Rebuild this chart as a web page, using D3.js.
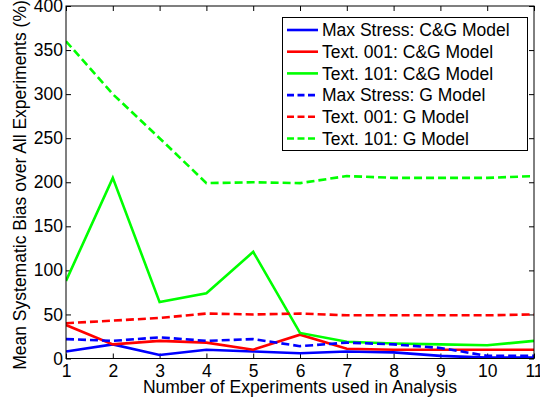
<!DOCTYPE html>
<html>
<head>
<meta charset="utf-8">
<script src="https://cdn.jsdelivr.net/npm/d3@7"></script>
<style>
  body { margin: 0; background: #fff; }
  text { font-family: Arial, "Liberation Sans", sans-serif; fill: #000; }
</style>
</head>
<body>
<div id="canvas"></div>
<script>
"use strict"

/* Data */
let experiments = [1, 2, 3, 4, 5, 6, 7, 8, 9, 10, 11];
let maxStressCG = [8, 16, 4, 10, 8, 6, 8, 7, 3, 1, 1];
let text001CG = [38, 16, 20, 18, 10, 27, 11, 10, 10, 10, 10];
let text101CG = [88, 205, 64, 74, 121, 29, 19, 17, 16, 15, 20];
let maxStressG = [22, 20, 24, 20, 22, 14, 18, 16, 12, 3, 3];
let text001G = [40, 43, 46, 51, 50, 51, 49, 49, 49, 49, 50];
let text101G = [360, 300, 250, 199, 200, 199, 207, 205, 205, 205, 207];
let yTicks = [0, 50, 100, 150, 200, 250, 300, 350, 400];

let seriesNames = ["Max Stress: C&G Model", "Text. 001: C&G Model", "Text. 101: C&G Model",
    "Max Stress: G Model", "Text. 001: G Model", "Text. 101: G Model"];
let seriesValues = [maxStressCG, text001CG, text101CG, maxStressG, text001G, text101G];
let seriesColors = ["#0000ff", "#ff0000", "#00ff00", "#0000ff", "#ff0000", "#00ff00"];
let seriesDashed = [false, false, false, true, true, true];

/* Configuration variables: drawing */
let svgWidth = 540;
let svgHeight = 404;
let plotLeft = 66, plotRight = 534, plotTop = 6, plotBottom = 358.5;
let fontSize = "17.5px";

let svg = d3.select("#canvas")
    .append("svg")
    .attr("width", svgWidth)
    .attr("height", svgHeight);

let xScale = d3.scaleLinear()
    .domain([1, 11])
    .range([plotLeft, plotRight]);

let yScale = d3.scaleLinear()
    .domain([0, 400])
    .range([plotBottom, plotTop]);

/* axes with inward ticks, mirrored on top and right */
function styleAxis(g) {
    g.select(".domain").remove();
    g.selectAll("line").attr("stroke", "#000");
    g.selectAll("text").style("font-size", fontSize).attr("fill", "#000");
}

svg.append("g")
    .attr("transform", "translate(0," + plotBottom + ")")
    .call(d3.axisBottom(xScale).tickValues(experiments).tickSizeInner(-5).tickSizeOuter(0).tickPadding(6))
    .call(styleAxis);

svg.append("g")
    .attr("transform", "translate(0," + plotTop + ")")
    .call(d3.axisTop(xScale).tickValues(experiments).tickSizeInner(-5).tickSizeOuter(0).tickFormat(""))
    .call(styleAxis);

svg.append("g")
    .attr("transform", "translate(" + plotLeft + ",0)")
    .call(d3.axisLeft(yScale).tickValues(yTicks).tickSizeInner(-5).tickSizeOuter(0).tickPadding(3))
    .call(styleAxis);

svg.append("g")
    .attr("transform", "translate(" + plotRight + ",0)")
    .call(d3.axisRight(yScale).tickValues(yTicks).tickSizeInner(-5).tickSizeOuter(0).tickFormat(""))
    .call(styleAxis);

/* lines */
let line = d3.line()
    .x(function (d, i) { return xScale(experiments[i]); })
    .y(function (d) { return yScale(d); });

svg.append("clipPath").attr("id", "plotclip")
    .append("rect")
    .attr("x", plotLeft).attr("y", plotTop)
    .attr("width", plotRight - plotLeft).attr("height", plotBottom - plotTop);

seriesValues.forEach(function (vals, i) {
    svg.append("path")
        .datum(vals)
        .attr("clip-path", "url(#plotclip)")
        .attr("fill", "none")
        .attr("stroke", seriesColors[i])
        .attr("stroke-width", 2.6)
        .attr("stroke-dasharray", seriesDashed[i] ? "8,4" : null)
        .attr("d", line);
});

/* plot frame */
svg.append("rect")
    .attr("x", plotLeft)
    .attr("y", plotTop)
    .attr("width", plotRight - plotLeft)
    .attr("height", plotBottom - plotTop)
    .attr("fill", "none")
    .attr("stroke", "#000")
    .attr("stroke-width", 1);

/* legend */
let legend = svg.append("g");
legend.append("rect")
    .attr("x", 282.5)
    .attr("y", 17.5)
    .attr("width", 245)
    .attr("height", 133)
    .attr("fill", "#fff")
    .attr("stroke", "#000")
    .attr("stroke-width", 1);

seriesNames.forEach(function (name, i) {
    let y = 30 + i * 21.7;
    legend.append("line")
        .attr("x1", 287).attr("x2", 318)
        .attr("y1", y).attr("y2", y)
        .attr("stroke", seriesColors[i])
        .attr("stroke-width", 2.6)
        .attr("stroke-dasharray", seriesDashed[i] ? "7,3.5" : null);
    legend.append("text")
        .attr("x", 322)
        .attr("y", y)
        .attr("dy", "0.35em")
        .style("font-size", fontSize)
        .text(name);
});

/**** label the axes ****/
svg.append("text")
    .attr("x", (plotLeft + plotRight) / 2)
    .attr("y", 393)
    .attr("text-anchor", "middle")
    .style("font-size", fontSize)
    .text("Number of Experiments used in Analysis");

svg.append("text")
    .attr("x", -185)
    .attr("y", 21)
    .attr("text-anchor", "middle")
    .attr("dominant-baseline", "middle")
    .attr("transform", "rotate(-90)")
    .style("font-size", fontSize)
    .text("Mean Systematic Bias over All Experiments (%)");
</script>
</body>
</html>
